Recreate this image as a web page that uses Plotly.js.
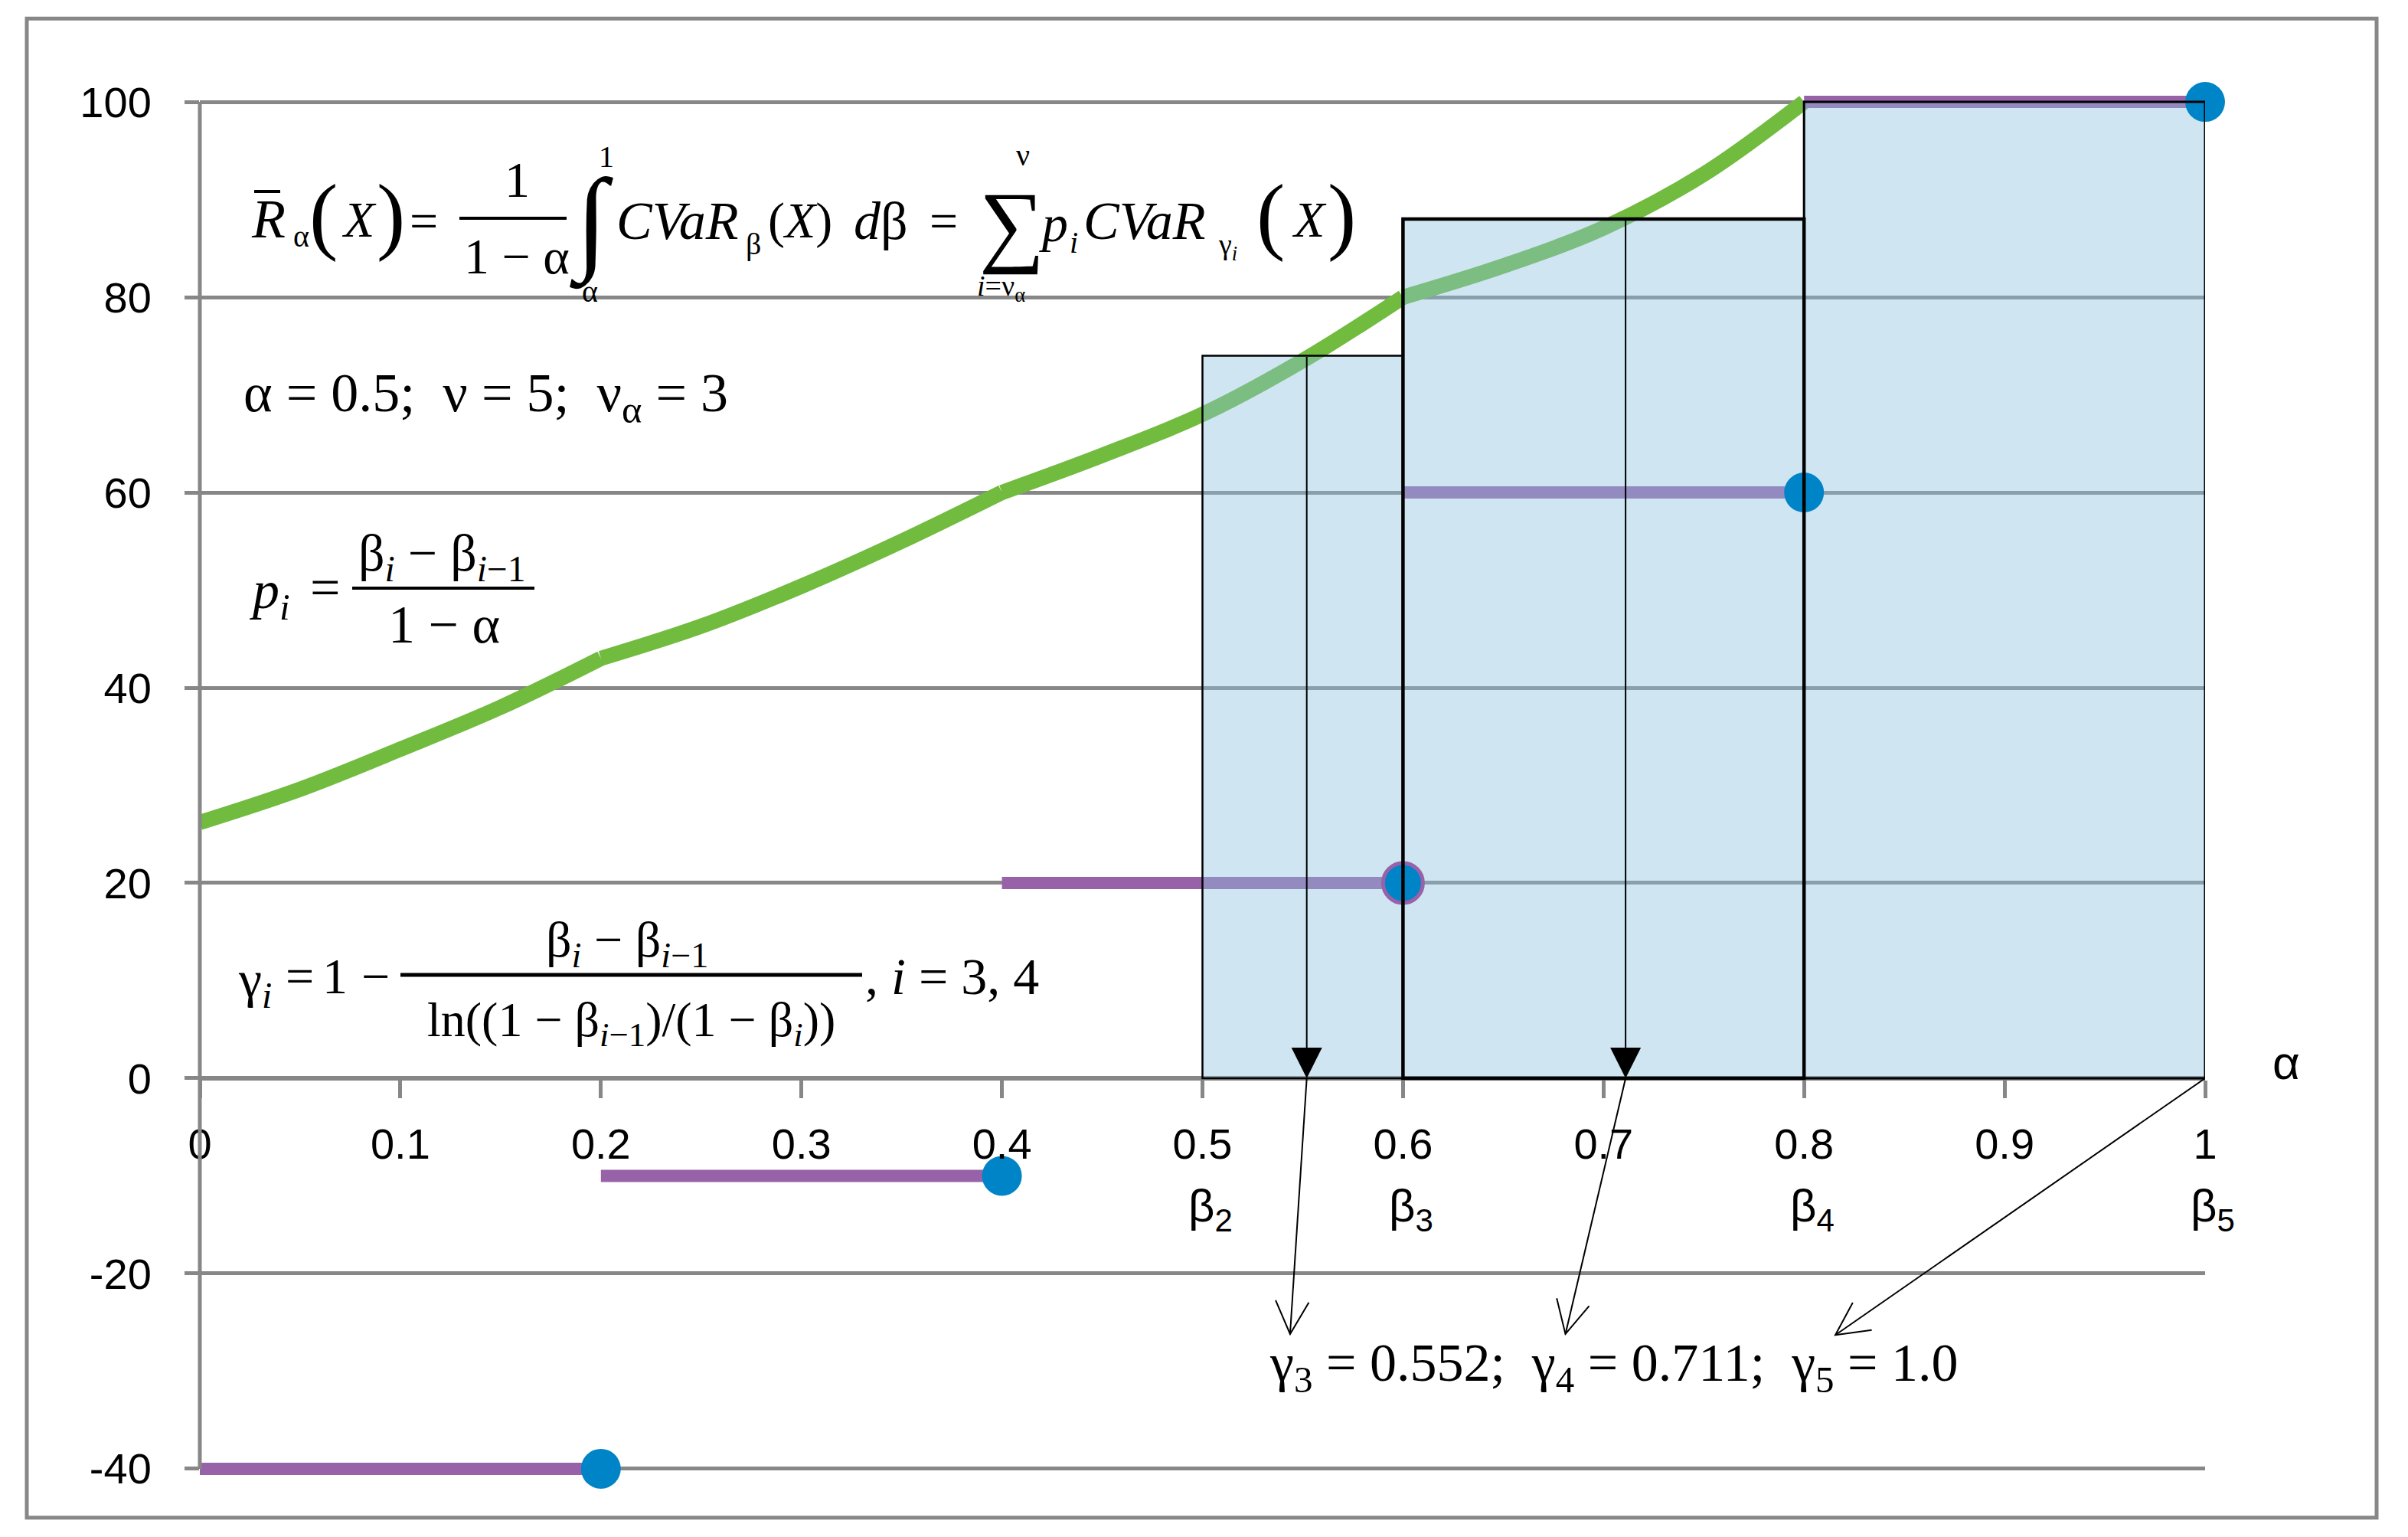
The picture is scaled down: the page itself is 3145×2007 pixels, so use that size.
<!DOCTYPE html>
<html>
<head>
<meta charset="utf-8">
<script src="https://cdn.plot.ly/plotly-3.0.1.min.js"></script>
<style>
  html, body { margin: 0; padding: 0; background: #fff; }
  #chart { width: 3145px; height: 2007px; }
</style>
</head>
<body>
<div id="chart"></div>
<script>
// Chart values
const cvarX = [0, 0.05, 0.1, 0.15, 0.2, 0.25, 0.3, 0.35, 0.4, 0.45, 0.5, 0.55, 0.6, 0.65, 0.7, 0.75, 0.8];
const cvarY = [26.2, 29.6, 33.7, 38.0, 43.0, 46.3, 50.4, 55.0, 60.0, 63.8, 68.0, 73.5, 80.0, 83.2, 87.1, 92.6, 100];

const varBreaks = [0, 0.2, 0.4, 0.6, 0.8, 1.0];
const varLevels = [-40, -10, 20, 60, 100];

const betas = [0.5, 0.6, 0.8, 1.0];
const betaNames = ['2', '3', '4', '5'];
const boxHeights = [74, 88, 100];
const gammas = [0.552, 0.711, 1.0];

const xTicks = [0, 0.1, 0.2, 0.3, 0.4, 0.5, 0.6, 0.7, 0.8, 0.9, 1];
const yTicks = [-40, -20, 0, 20, 40, 60, 80, 100];

// Fonts / colours
const SANS = 'Liberation Sans, Arial, sans-serif';
const SERIF = 'Liberation Serif, Times New Roman, serif';
const GRID = '#878787';
const GREEN = '#71bb3f';
const PURPLE = '#9862a9';
const BLUE = '#0084c8';
const BOX_FILL = 'rgba(140,192,222,0.42)';

// Frame of the plot area in page pixels
const W = 3145, H = 2007;
const X0_PX = 261, X1_PX = 2880;      // x = 0 and x = 1
const YTOP_PX = 133, YBOT_PX = 1918;  // y = 100 and y = -40
const Y_RANGE = [-41.5, 101.5];
const pxPerX = X1_PX - X0_PX;
const pxPerY = (YBOT_PX - YTOP_PX) / 140;
const toX = p => (p - X0_PX) / pxPerX;
const toY = p => 100 - (p - YTOP_PX) / pxPerY;
const paperY = y => (y - Y_RANGE[0]) / (Y_RANGE[1] - Y_RANGE[0]);
const marginT = YTOP_PX - (Y_RANGE[1] - 100) * pxPerY;
const marginB = H - (YBOT_PX + (-40 - Y_RANGE[0]) * pxPerY);

// ---------- traces ----------
const traces = [];

// CVaR curve: smooth between the breakpoints, with kinks at them
for (let k = 0; k < varBreaks.length - 1; k++) {
    const idx = cvarX.map((x, i) => i).filter(i => cvarX[i] >= varBreaks[k] && cvarX[i] <= varBreaks[k + 1]);
    if (idx.length < 2) continue;
    traces.push({
        x: idx.map(i => cvarX[i]), y: idx.map(i => cvarY[i]), mode: 'lines',
        line: { color: GREEN, width: 20, shape: 'spline', smoothing: 1 },
        hoverinfo: 'skip'
    });
}

const segX = [], segY = [];
varLevels.forEach((v, i) => {
    segX.push(varBreaks[i], varBreaks[i + 1], null);
    segY.push(v, v, null);
});
traces.push({
    x: segX, y: segY, mode: 'lines', connectgaps: false,
    line: { color: PURPLE, width: 16 },
    hoverinfo: 'skip'
});

boxHeights.forEach((h, i) => {
    const a = betas[i], b = betas[i + 1];
    traces.push({
        x: [a, b, b, a, a], y: [0, 0, h, h, 0],
        mode: 'none', fill: 'toself', fillcolor: BOX_FILL,
        hoverinfo: 'skip'
    });
});

traces.push({
    x: varBreaks.slice(1), y: varLevels, mode: 'markers',
    cliponaxis: false,
    marker: {
        size: 52, color: BLUE,
        line: {
            color: varLevels.map((_, i) => i === 2 ? PURPLE : BLUE),
            width: varLevels.map((_, i) => i === 2 ? 5 : 0)
        }
    },
    hoverinfo: 'skip'
});

// ---------- shapes ----------
const shapes = [];

// chart border
shapes.push({
    type: 'rect', xref: 'paper', yref: 'paper',
    x0: toX(35), x1: toX(3104), y0: paperY(toY(1982)), y1: paperY(toY(24)),
    line: { color: GRID, width: 5 }, fillcolor: 'rgba(0,0,0,0)'
});

// vertical axis line
shapes.push({
    type: 'line', xref: 'paper', yref: 'paper',
    x0: 0, x1: 0, y0: paperY(-40), y1: paperY(100),
    line: { color: GRID, width: 5 }
});

// box outlines
const boxLineWidths = [2.5, 4.5, 3];
boxHeights.forEach((h, i) => {
    shapes.push({
        type: 'rect', xref: 'x', yref: 'y', layer: 'above',
        x0: betas[i], x1: betas[i + 1], y0: 0, y1: h,
        line: { color: '#000', width: boxLineWidths[i] },
        fillcolor: 'rgba(0,0,0,0)'
    });
});

// thin arrows from gamma points to the gamma label, with open heads
const arrowTips = [[0.5437, -26.2], [0.681, -26.2], [0.8156, -26.3]];
function vHead(x0, y0, x1, y1, len, ang) {
    const dx = (x1 - x0) * pxPerX, dy = -(y1 - y0) * pxPerY;
    const L = Math.hypot(dx, dy);
    const bx = -dx / L, by = -dy / L;
    const arm = a => {
        const rx = bx * Math.cos(a) - by * Math.sin(a);
        const ry = bx * Math.sin(a) + by * Math.cos(a);
        return [x1 + rx * len / pxPerX, y1 - ry * len / pxPerY];
    };
    const p = arm(ang), q = arm(-ang);
    return `M ${p[0]},${p[1]} L ${x1},${y1} L ${q[0]},${q[1]}`;
}
gammas.forEach((g, i) => {
    const [tx, ty] = arrowTips[i];
    shapes.push({
        type: 'line', xref: 'x', yref: 'y', layer: 'above',
        x0: g, y0: 0, x1: tx, y1: ty,
        line: { color: '#000', width: 2 }
    });
    shapes.push({
        type: 'path', xref: 'x', yref: 'y', layer: 'above',
        path: vHead(g, 0, tx, ty, 48, 0.47),
        line: { color: '#000', width: 2 }
    });
});

// fraction bars and the bar over R
function hbar(x0p, x1p, yp, w) {
    return {
        type: 'line', xref: 'x', yref: 'y', layer: 'above',
        x0: toX(x0p), x1: toX(x1p), y0: toY(yp), y1: toY(yp),
        line: { color: '#000', width: w }
    };
}
shapes.push(hbar(332, 366, 250, 4));
shapes.push(hbar(600, 740, 285, 4));
shapes.push(hbar(460, 698, 768, 4));
shapes.push(hbar(523, 1126, 1273, 5));

// ---------- annotations ----------
function label(xp, yp, text, size, extra) {
    return Object.assign({
        xref: 'paper', yref: 'paper', x: toX(xp), y: paperY(toY(yp)), text: text,
        showarrow: false, xanchor: 'center', yanchor: 'middle',
        font: { family: SERIF, size: size, color: '#000' }
    }, extra || {});
}
const ann = [];

// formula: mean CVaR
ann.push(label(350, 286, '<i>R</i>', 72));
ann.push(label(393, 308, 'α', 40));
ann.push(label(422, 280, '(', 112));
ann.push(label(469, 286, '<i>X</i>', 66));
ann.push(label(510, 280, ')', 112));
ann.push(label(553, 288, '=', 66));
ann.push(label(675, 234, '1', 66));
ann.push(label(675, 334, '1 − α', 66));
ann.push(label(772, 290, '∫', 150));
ann.push(label(792, 204, '1', 40));
ann.push(label(770, 380, 'α', 40));
ann.push(label(884, 288, '<i>CVaR</i>', 70));
ann.push(label(984, 318, 'β', 40));
ann.push(label(1045, 288, '(<i>X</i>)', 66));
ann.push(label(1150, 288, '<i>d</i>β', 70));
ann.push(label(1232, 288, '=', 66));
ann.push(label(1322, 292, '∑', 120));
ann.push(label(1336, 202, 'ν', 40));
ann.push(label(1307, 376, '<i>i</i>=ν<sub>α</sub>', 38));
ann.push(label(1376, 292, '<i>p</i>', 68));
ann.push(label(1402, 316, '<i>i</i>', 40));
ann.push(label(1494, 288, '<i>CVaR</i>', 70));
ann.push(label(1603, 322, 'γ<sub><i>i</i></sub>', 38));
ann.push(label(1659, 280, '(', 112));
ann.push(label(1710, 286, '<i>X</i>', 66));
ann.push(label(1752, 280, ')', 112));

// parameters
ann.push(label(316, 518, 'α = 0.5;\u00a0 ν = 5;\u00a0 ν<sub>α</sub> = 3', 72, { xanchor: 'left' }));

// p_i
ann.push(label(323, 776, '<i>p</i><sub><i>i</i></sub>', 70, { xanchor: 'left' }));
ann.push(label(424, 767, '=', 70));
ann.push(label(577, 726, 'β<sub><i>i</i></sub> − β<sub><i>i</i>−1</sub>', 68));
ann.push(label(580, 815, '1 − α', 70));

// gamma_i
ann.push(label(309, 1284, 'γ<sub><i>i</i></sub>', 68, { xanchor: 'left' }));
ann.push(label(391, 1275, '=', 66));
ann.push(label(437, 1275, '1', 66));
ann.push(label(490, 1275, '−', 66));
ann.push(label(819, 1232, 'β<sub><i>i</i></sub> − β<sub><i>i</i>−1</sub>', 66));
ann.push(label(824, 1336, 'ln((1 − β<sub><i>i</i>−1</sub>)/(1 − β<sub><i>i</i></sub>))', 64));
ann.push(label(1128, 1275, ', <i>i</i> = 3, 4', 68, { xanchor: 'left' }));

// gamma values
ann.push(label(2108, 1785, 'γ<sub>3</sub> = 0.552;\u00a0 γ<sub>4</sub> = 0.711;\u00a0 γ<sub>5</sub> = 1.0', 70));

// beta labels under the axis
betas.forEach((b, i) => {
    ann.push({
        xref: 'paper', yref: 'paper', x: b + 0.004, y: paperY(-13.4),
        text: 'β<sub>' + betaNames[i] + '</sub>', showarrow: false,
        xanchor: 'center', yanchor: 'middle',
        font: { family: SANS, size: 60, color: '#000' }
    });
});

// axis name
ann.push(label(2986, 1388, 'α', 62, { font: { family: SANS, size: 62, color: '#000' } }));

// filled arrows from box tops to the gamma points
gammas.slice(0, 2).forEach((g, i) => {
    ann.push({
        xref: 'x', yref: 'y', axref: 'x', ayref: 'y',
        x: g, y: 0, ax: g, ay: boxHeights[i],
        text: '', showarrow: true, arrowhead: 2,
        arrowsize: 4, arrowwidth: 2, arrowcolor: '#000', standoff: 0
    });
});

// ---------- layout ----------
const layout = {
    width: W, height: H,
    margin: { l: X0_PX, r: W - X1_PX, t: marginT, b: marginB, pad: 0 },
    paper_bgcolor: '#fff', plot_bgcolor: '#fff',
    showlegend: false,
    xaxis: {
        range: [0, 1], anchor: 'free', position: paperY(0),
        tickvals: xTicks, ticktext: xTicks.map(String),
        showgrid: false, zeroline: false,
        showline: true, linecolor: GRID, linewidth: 5,
        ticks: 'outside', ticklen: 23, tickwidth: 5, tickcolor: GRID,
        tickfont: { family: SANS, size: 56, color: '#000' },
        ticklabelstandoff: 12
    },
    yaxis: {
        range: Y_RANGE,
        tickvals: yTicks, ticktext: yTicks.map(String),
        showgrid: true, gridcolor: GRID, gridwidth: 5,
        zeroline: false, showline: false,
        ticks: 'outside', ticklen: 19, tickwidth: 5, tickcolor: GRID,
        tickfont: { family: SANS, size: 56, color: '#000' },
        ticklabelstandoff: 32
    },
    shapes: shapes,
    annotations: ann
};

Plotly.newPlot('chart', traces, layout, { staticPlot: true, displayModeBar: false });
</script>
</body>
</html>
